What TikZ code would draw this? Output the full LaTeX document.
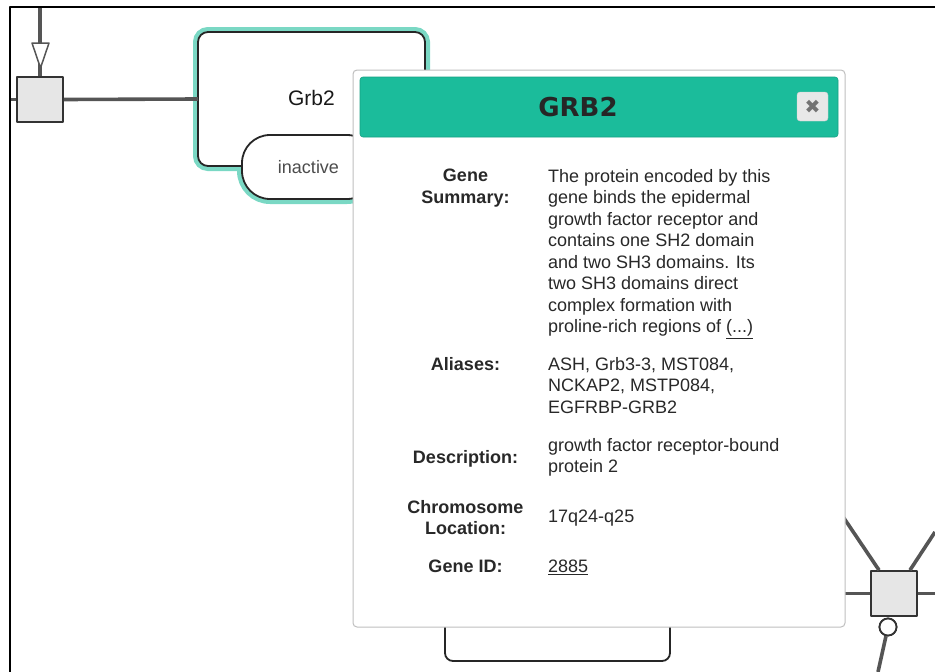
\documentclass[tikz,border=0pt]{standalone}
\usepackage{fontspec}
\setmainfont{Liberation Sans}
\newfontfamily\titlefont{DejaVu Sans}
\usetikzlibrary{positioning,backgrounds}

\definecolor{headteal}{RGB}{27,188,155}
\definecolor{glowteal}{RGB}{122,216,196}
\definecolor{linegray}{RGB}{85,85,85}
\definecolor{boxgray}{RGB}{230,230,230}
\definecolor{txtgray}{RGB}{40,40,40}

\begin{document}
\begin{tikzpicture}[
        x = 1pt, y = -1pt,
        line join=round,
        edge/.style = {line width=3.6pt, linegray},
        procbox/.style = {draw=black!80, line width=1.8pt, fill=boxgray, minimum width=46pt, minimum height=45pt, inner sep=0pt},
        glyph/.style = {draw=black!85, line width=1.8pt, fill=white, rounded corners=10pt, outer sep=0pt, inner sep=0pt},
        glow/.style = {draw=glowteal, line width=10pt},
        lbl/.style = {font=\bfseries\fontsize{18}{21.5}\selectfont, text=txtgray, align=center, anchor=north, inner sep=0pt},
        val/.style = {font=\fontsize{18}{21.5}\selectfont, text=txtgray, align=left, anchor=north west, inner sep=0pt}
    ]

    \useasboundingbox (0, 0) rectangle (935, 672);

    % process nodes and lines
    \node[procbox] (p1) at (40, 99.5) {};
    \node[procbox] (p2) at (894, 593.5) {};
    \node[circle, draw=black!80, line width=1.8pt, fill=white, minimum size=17pt, inner sep=0pt] (p2c) at (888, 627) {};

    \coordinate (n0) at (40, 7);
    \coordinate (w0) at (10, 99.5);
    \coordinate (e1) at (820, 593.5);
    \coordinate (e2) at (935, 593.5);
    \coordinate (d1) at (825, 490);
    \coordinate (d2) at (935, 532);
    \coordinate (s1) at (878, 672);

    \draw[edge] (n0) -- (p1.north);
    \draw[draw=linegray, line width=1.5pt, fill=white] (32, 43) -- (49, 43) -- (40.5, 68) -- cycle;
    \draw[edge] (w0) -- (p1.west);

    \draw[edge] (e1) -- (p2.west);
    \draw[edge] (p2.east) -- (e2);
    \draw[edge] (d1) -- ([xshift=-15pt]p2.north);
    \draw[edge] ([xshift=16pt]p2.north) -- (d2);
    \draw[edge] (p2c) -- (s1);
    \node[circle, draw=black!80, line width=1.8pt, fill=white, minimum size=17pt, inner sep=0pt] at (p2c) {};

    % Grb2 glyph with its state
    \node[glyph, minimum width=227pt, minimum height=134pt, font=\fontsize{21}{24}\selectfont, text=black!90] (grb2) at (311.5, 99) {\raisebox{2pt}{Grb2}};
    \node[glyph, minimum width=133pt, minimum height=64pt, rounded corners=28pt, font=\fontsize{18}{20}\selectfont, text=black!70] (inactive) at (308.5, 167) {inactive};
    \begin{scope}[on background layer]
        \draw[glow, rounded corners=10pt] (grb2.south west) rectangle (grb2.north east);
        \draw[glow, rounded corners=28pt] (inactive.south west) rectangle (inactive.north east);
    \end{scope}
    \draw[edge] (p1.east) -- (grb2.west);

    \node[glyph, rounded corners=8pt, minimum width=225pt, minimum height=121pt] (bottom) at (557.5, 600.5) {};

    % popup
    \node[draw=black!25, line width=1pt, fill=white, rounded corners=4pt, minimum width=492pt, minimum height=557pt] (popup) at (599, 348.5) {};
    \node[fill=headteal, draw=headteal!85!black, line width=0.6pt, rounded corners=3pt, minimum width=478pt, minimum height=60pt] (head) at (599, 107) {};
    \node[font=\titlefont\bfseries\fontsize{26}{29}\selectfont, text=black!85] (title) at (578, 107) {GRB2};
    \node[fill=boxgray!90, draw=black!20, rounded corners=3pt, minimum width=31pt, minimum height=29pt, inner sep=0pt,
          font=\titlefont\fontsize{19}{20}\selectfont, text=black!55] (close) at (812.5, 106.5) {✖};

    \node[lbl] (l1) at (465.5, 169) {Gene\\Summary:};
    \node[val] (v1) at (548, 169) {The protein encoded by this\\gene binds the epidermal\\growth factor receptor and\\contains one SH2 domain\\and two SH3 domains. Its\\two SH3 domains direct\\complex formation with\\proline-rich regions of \underline{(...)}};

    \node[lbl] (l2) at (465.5, 357) {Aliases:};
    \node[val] (v2) at (548, 357) {ASH, Grb3-3, MST084,\\NCKAP2, MSTP084,\\EGFRBP-GRB2};

    \node[lbl] (l3) at (465.5, 450) {Description:};
    \node[val] (v3) at (548, 438) {growth factor receptor-bound\\protein 2};

    \node[lbl] (l4) at (465.5, 500) {Chromosome\\Location:};
    \node[val] (v4) at (548, 510) {17q24-q25};

    \node[lbl] (l5) at (465.5, 560) {Gene ID:};
    \node[val] (v5) at (548, 560) {\underline{2885}};

    % frame
    \draw[line width=2pt] (10, 672) -- (10, 7) -- (935, 7);

\end{tikzpicture}
\end{document}
